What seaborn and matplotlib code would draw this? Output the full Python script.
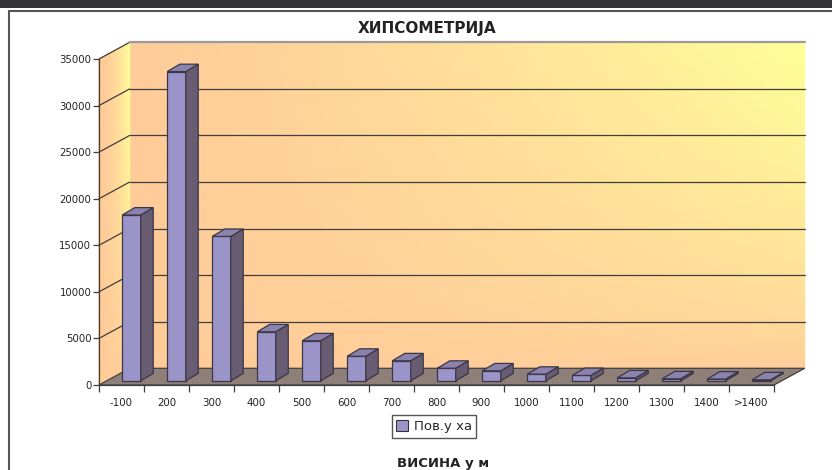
import numpy as np
import pandas as pd
import matplotlib
matplotlib.use('Agg')
import matplotlib.pyplot as plt
from matplotlib.patches import Polygon, Rectangle, Patch
from matplotlib.lines import Line2D
from matplotlib.transforms import IdentityTransform, ScaledTranslation
from matplotlib.colors import LinearSegmentedColormap
import seaborn as sns

# data
categories = ['-100', '200', '300', '400', '500', '600', '700', '800',
              '900', '1000', '1100', '1200', '1300', '1400', '>1400']
area_ha = [17800, 33200, 15500, 5260, 4300, 2640, 2150, 1350,
           1070, 710, 570, 320, 215, 190, 110]
y_ticks = [0, 5000, 10000, 15000, 20000, 25000, 30000, 35000]

sns.set_theme(style='white')
plt.rcParams['font.family'] = ['DejaVu Sans']

W, H = 832, 470
fig = plt.figure(figsize=(W / 100, H / 100), dpi=100)
fig.patch.set_facecolor('white')

# background axes in pixel units for the walls and the floor
bg = fig.add_axes([0, 0, 1, 1])
bg.set_xlim(0, W)
bg.set_ylim(0, H)
bg.axis('off')
bg.set_zorder(-1)

# front plane of the 3d box (pixels: x 99..774, y 59..385 from top)
ax = fig.add_axes([99 / W, (H - 385) / H, 675 / W, 326 / H])
ax.set_facecolor('none')

front_col = '#9b94c8'
side_col = '#675c72'
top_col = '#8b83ae'
edge_col = '#3b3747'

df = pd.DataFrame({'visina': categories, 'pov': area_ha})
sns.barplot(data=df, x='visina', y='pov', color=front_col, saturation=1,
            width=0.41, edgecolor=edge_col, linewidth=0.9, ax=ax, zorder=4)
ax.set_xlim(-0.5, len(categories) - 0.5)
ax.set_ylim(0, 35000)
ax.set_autoscale_on(False)

DEPTH = np.array([30.7, 16.7])     # depth of the box in pixels
BAR_OFF = np.array([10.0, 4.2])    # bars sit a little behind the front edge
BAR_D = np.array([12.5, 7.4])      # depth of each bar

def P(x, y, d=0.0):
    return ax.transData.transform((x, y)) + d * DEPTH

x0, x1 = -0.5, len(categories) - 0.5
ymax = 35000
ident = IdentityTransform()
cmap = LinearSegmentedColormap.from_list('wall', ['#ffcc99', '#ffff99'])

# back wall gradient
u = np.linspace(0, 1, 80)
v = np.linspace(0, 1, 50)
U, V = np.meshgrid(u, v)
bl = P(x0, 0, 1)
tr = P(x1, ymax, 1)
X = bl[0] + U * (tr[0] - bl[0])
Y = bl[1] + V * (tr[1] - bl[1])
T = np.clip(U ** 1.3 * V ** 0.7, 0, 1)
bg.pcolormesh(X, Y, T, cmap=cmap, vmin=0, vmax=1, shading='gouraud', zorder=0)

# left side wall gradient
fb = P(x0, 0, 0)
ft = P(x0, ymax, 0)
Xs = fb[0] + U * DEPTH[0]
Ys = fb[1] + V * (ft[1] - fb[1]) + U * DEPTH[1]
Ts = np.clip(U ** 2 * V ** 0.5, 0, 1)
bg.pcolormesh(Xs, Ys, Ts, cmap=cmap, vmin=0, vmax=1, shading='gouraud', zorder=0)

# gridlines on side wall and back wall
for yv in y_ticks[1:]:
    pts = np.array([P(x0, yv, 0), P(x0, yv, 1), P(x1, yv, 1)])
    bg.plot(pts[:2, 0], pts[:2, 1], color='#3f3f3f', lw=0.9, zorder=1)
    col = '#9a9a9a' if yv == ymax else '#3f3f3f'
    lw = 1.6 if yv == ymax else 0.9
    bg.plot(pts[1:, 0], pts[1:, 1], color=col, lw=lw, zorder=1)

# floor
bg.add_patch(Polygon([P(x0, 0, 0), P(x1, 0, 0), P(x1, 0, 1), P(x0, 0, 1)],
                     closed=True, facecolor='#8e8079', edgecolor='#3f3f3f',
                     lw=0.9, zorder=2))

# give the bars depth: move the front faces back and add side and top faces
shift = ScaledTranslation(BAR_OFF[0] / 100, BAR_OFF[1] / 100, fig.dpi_scale_trans)
for p in list(ax.patches):
    bx, bw, bh = p.get_x(), p.get_width(), p.get_height()
    p.set_transform(ax.transData + shift)
    p.set_clip_on(False)
    a = P(bx + bw, 0) + BAR_OFF
    b = P(bx + bw, bh) + BAR_OFF
    c = P(bx, bh) + BAR_OFF
    ax.add_patch(Polygon([a, b, b + BAR_D, a + BAR_D], closed=True,
                         facecolor=side_col, edgecolor=edge_col, lw=0.9,
                         transform=ident, zorder=4, clip_on=False))
    ax.add_patch(Polygon([c, b, b + BAR_D, c + BAR_D], closed=True,
                         facecolor=top_col, edgecolor=edge_col, lw=0.9,
                         transform=ident, zorder=4, clip_on=False))

# axes styling
sns.despine(ax=ax, top=True, right=True)
for s in ['left', 'bottom']:
    ax.spines[s].set_color('#3f3f3f')
    ax.spines[s].set_linewidth(0.9)
    ax.spines[s].set_zorder(5)
ax.set_yticks(y_ticks)
ax.set_yticklabels([str(t) for t in y_ticks])
ax.set_xticks(range(len(categories)))
ax.set_xticklabels(categories)
ax.set_xticks(np.arange(-0.5, len(categories), 1.0), minor=True)
ax.tick_params(axis='y', left=True, length=4, width=0.9, color='#3f3f3f',
               labelsize=7.3, labelcolor='#222222', pad=1.5)
ax.tick_params(axis='x', which='major', bottom=False, length=0,
               labelsize=7.4, labelcolor='#222222', pad=9)
ax.tick_params(axis='x', which='minor', bottom=True, length=5, width=0.9,
               color='#3f3f3f', direction='out')
ax.set_xlabel('')
ax.set_ylabel('')
ax.grid(False)

# titles and legend
fig.text(427 / W, 1 - 28 / H, 'ХИПСОМЕТРИЈА', ha='center', va='center',
         fontsize=11, fontweight='bold', color='#222222')
fig.text(443 / W, 1 - 463 / H, 'ВИСИНА у м', ha='center', va='center',
         fontsize=9.5, fontweight='bold', color='#222222')
leg = fig.legend(handles=[Patch(facecolor=front_col, edgecolor='#333333', lw=0.8)],
                 labels=['Пов.у ха'], loc='center',
                 bbox_to_anchor=(434 / W, 1 - 426.5 / H), frameon=True,
                 fancybox=False, framealpha=1, edgecolor='#555555',
                 fontsize=9.5, handlelength=0.9, handleheight=0.9,
                 handletextpad=0.4, borderpad=0.35)
leg.get_frame().set_linewidth(1.0)

# dark strip at the top and the chart frame
fig.add_artist(Rectangle((0, 1 - 8 / H), 1, 8 / H, transform=fig.transFigure,
                         facecolor='#343338', edgecolor='none'))
fig.add_artist(Line2D([8.5 / W, 1], [1 - 10.5 / H, 1 - 10.5 / H],
                      transform=fig.transFigure, color='#555555', lw=1.5))
fig.add_artist(Line2D([8.5 / W, 8.5 / W], [0, 1 - 10.5 / H],
                      transform=fig.transFigure, color='#555555', lw=1.5))

fig.savefig('out.png', dpi=100)
